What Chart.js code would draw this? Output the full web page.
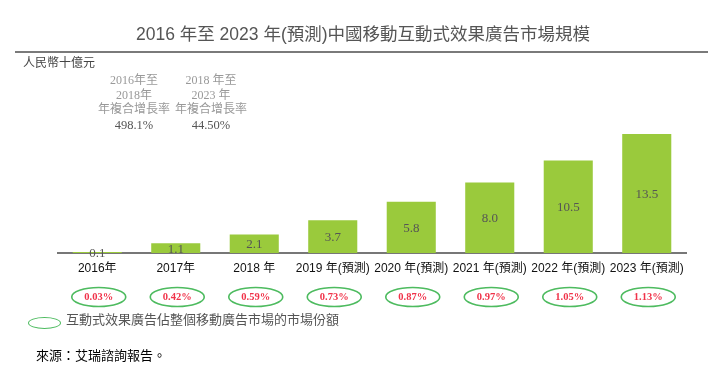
<!DOCTYPE html>
<html lang="zh-Hant">
<head>
  <meta charset="UTF-8" />
  <title>2016 年至 2023 年(預測)中國移動互動式效果廣告市場規模</title>
  <script src="https://cdn.jsdelivr.net/npm/chart.js"></script>
  <style>
    body {
      margin: 0;
      background: #fff;
    }

    #wrap {
      position: relative;
      width: 722px;
      height: 373px;
      overflow: hidden;
    }

    #grafica {
      position: absolute;
      left: 0;
      top: 0;
    }

    .txt {
      position: absolute;
      white-space: nowrap;
      line-height: 1;
    }

    #titulo {
      left: 0;
      width: 726px;
      top: 26px;
      text-align: center;
      font-family: 'Liberation Sans', 'Noto Sans CJK TC', sans-serif;
      font-size: 17.5px;
      color: #555;
    }

    #regla {
      position: absolute;
      left: 15px;
      width: 693px;
      top: 51px;
      height: 2px;
      background: #7a7a7a;
    }

    #unidad {
      left: 23px;
      top: 57px;
      font-family: 'Liberation Serif', 'Noto Sans CJK TC', serif;
      font-size: 12px;
      color: #444;
    }

    .cagr {
      position: absolute;
      width: 90px;
      text-align: center;
      font-family: 'Liberation Serif', 'Noto Sans CJK TC', serif;
      font-size: 12px;
      color: #999;
    }

    .cagr div {
      height: 14.5px;
      line-height: 14.5px;
    }

    .cagr .valor {
      color: #555;
      margin-top: 1.5px;
      font-size: 12.5px;
    }

    #leyenda {
      left: 66px;
      top: 313px;
      font-family: 'Liberation Serif', 'Noto Sans CJK TC', serif;
      font-size: 13px;
      color: #555;
    }

    #elipseLeyenda {
      position: absolute;
      left: 28px;
      top: 317px;
      width: 31px;
      height: 10px;
      border: 1.5px solid #4dbb5f;
      border-radius: 50%;
    }

    #fuente {
      left: 36px;
      top: 348px;
      font-family: 'Noto Sans CJK TC', sans-serif;
      font-size: 13px;
      color: #000;
    }
  </style>
</head>
<body>
  <div id="wrap">
    <canvas id="grafica" width="722" height="373"></canvas>
    <div class="txt" id="titulo">2016 年至 2023 年(預測)中國移動互動式效果廣告市場規模</div>
    <div id="regla"></div>
    <div class="txt" id="unidad">人民幣十億元</div>
    <div class="cagr" style="left: 89px; top: 73px;">
      <div>2016年至</div>
      <div>2018年</div>
      <div>年複合增長率</div>
      <div class="valor">498.1%</div>
    </div>
    <div class="cagr" style="left: 166px; top: 73px;">
      <div>2018 年至</div>
      <div>2023 年</div>
      <div>年複合增長率</div>
      <div class="valor">44.50%</div>
    </div>
    <div id="elipseLeyenda"></div>
    <div class="txt" id="leyenda">互動式效果廣告佔整個移動廣告市場的市場份額</div>
    <div class="txt" id="fuente">來源：艾瑞諮詢報告。</div>
  </div>

  <script>
    const anios = ['2016年', '2017年', '2018 年', '2019 年(預測)', '2020 年(預測)',
                   '2021 年(預測)', '2022 年(預測)', '2023 年(預測)'];
    const mercado = [0.1, 1.1, 2.1, 3.7, 5.8, 8.0, 10.5, 13.5];
    const etiquetas = ['0.1', '1.1', '2.1', '3.7', '5.8', '8.0', '10.5', '13.5'];
    const participacion = ['0.03%', '0.42%', '0.59%', '0.73%', '0.87%', '0.97%', '1.05%', '1.13%'];

    // etiquetas dentro de cada barra
    const valoresBarras = {
      id: 'valoresBarras',
      afterDatasetsDraw(chart) {
        const ctx = chart.ctx;
        const meta = chart.getDatasetMeta(0);
        ctx.save();
        ctx.font = '13px "Liberation Serif", serif';
        ctx.fillStyle = '#555';
        ctx.textAlign = 'center';
        ctx.textBaseline = 'middle';
        meta.data.forEach((bar, i) => {
          const medio = (bar.y + bar.base) / 2;
          ctx.fillText(etiquetas[i], bar.x, medio + 1);
        });
        ctx.restore();
      }
    };

    // óvalos con la participación de mercado bajo cada año
    const ovalos = {
      id: 'ovalos',
      afterDraw(chart) {
        const ctx = chart.ctx;
        const x = chart.scales.x;
        const y = 297;
        ctx.save();
        participacion.forEach((txt, i) => {
          const cx = x.getPixelForValue(i);
          ctx.beginPath();
          ctx.ellipse(cx + 1.5, y, 27, 9.5, 0, 0, Math.PI * 2);
          ctx.strokeStyle = '#4dbb5f';
          ctx.lineWidth = 1.6;
          ctx.stroke();
          ctx.font = 'bold 10.5px "Liberation Serif", serif';
          ctx.fillStyle = '#f0334a';
          ctx.textAlign = 'center';
          ctx.textBaseline = 'middle';
          ctx.fillText(txt, cx + 1.5, y + 0.5);
        });
        ctx.restore();
      }
    };

    new Chart(document.getElementById('grafica'), {
      type: 'bar',
      data: {
        labels: anios,
        datasets: [{
          data: mercado,
          backgroundColor: '#9aca3c',
          borderWidth: 0,
          categoryPercentage: 1,
          barPercentage: 0.625
        }]
      },
      options: {
        responsive: false,
        animation: false,
        layout: {
          padding: { left: 58, right: 36, top: 120.7, bottom: 0 }
        },
        plugins: {
          legend: { display: false },
          tooltip: { enabled: false }
        },
        scales: {
          x: {
            z: 1,
            grid: { display: false, drawTicks: false },
            border: { display: true, color: '#777', width: 2 },
            ticks: {
              autoSkip: false,
              maxRotation: 0,
              padding: 8,
              color: '#111',
              font: { family: '"Liberation Sans", "Noto Sans CJK TC", sans-serif', size: 12 }
            },
            afterFit(scale) { scale.height = 120; }
          },
          y: {
            display: false,
            min: 0,
            max: 15
          }
        }
      },
      plugins: [valoresBarras, ovalos]
    });
  </script>
</body>
</html>
